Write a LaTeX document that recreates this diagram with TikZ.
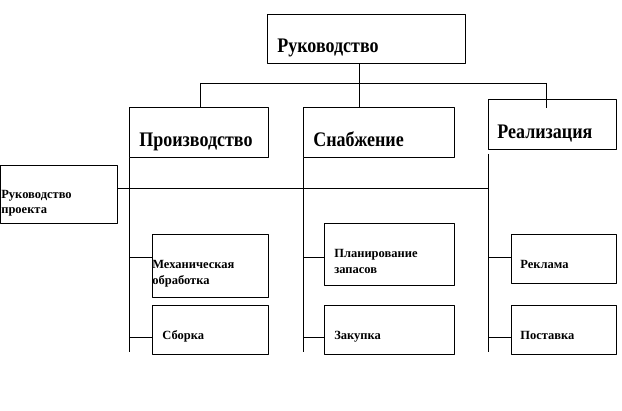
\documentclass[tikz,border=0pt]{standalone}
\usepackage{fontspec}
\setmainfont{Liberation Serif}
\newcommand{\tall}[1]{\scalebox{1}[1.15]{#1}}
\begin{document}
\begin{tikzpicture}[x=1pt, y=-1pt, line join=round, line width=0.7pt,
	box/.style={draw, rectangle, inner sep=0, anchor=north west},
	big/.style={font=\fontsize{18}{18}\selectfont\bfseries, anchor=base west, inner sep=0},
	small/.style={font=\fontsize{12.5}{16}\selectfont\bfseries, anchor=base west, align=left, inner sep=0}]
	\useasboundingbox (0,0) rectangle (622,411);
	\node[box, minimum width=198, minimum height=49] (ruk) at (267,14) {};
	\node[box, minimum width=139, minimum height=50] (proizv) at (129,107) {};
	\node[box, minimum width=151, minimum height=50] (snab) at (303,107) {};
	\node[box, minimum width=128, minimum height=50] (real) at (488,99) {};
	\node[box, minimum width=117, minimum height=58] (rukpr) at (0,165) {};
	\node[box, minimum width=116, minimum height=63] (mekh) at (152,234) {};
	\node[box, minimum width=116, minimum height=49] (sbor) at (152,305) {};
	\node[box, minimum width=130, minimum height=62] (plan) at (324,223) {};
	\node[box, minimum width=130, minimum height=49] (zak) at (324,305) {};
	\node[box, minimum width=105, minimum height=49] (rekl) at (511,234) {};
	\node[box, minimum width=105, minimum height=49] (post) at (511,305) {};
	\node[big] (tRuk) at (277,53) {\tall{Руководство}};
	\node[big] (tProizv) at (139,147) {\tall{Производство}};
	\node[big] (tSnab) at (313,147) {\tall{Снабжение}};
	\node[big] (tReal) at (497,139) {\tall{Реализация}};
	\node[small, font=\fontsize{12.5}{15}\selectfont\bfseries] (tRukpr) at (1,214) {Руководство\\проекта};
	\node[small] (tMekh) at (152,285) {Механическая\\обработка};
	\node[small] (tSbor) at (162,340) {Сборка};
	\node[small] (tPlan) at (334,274) {Планирование\\запасов};
	\node[small] (tZak) at (334,340) {Закупка};
	\node[small] (tRekl) at (520,269) {Реклама};
	\node[small] (tPost) at (520,340) {Поставка};
	\coordinate (hl) at (200,83);
	\coordinate (hm) at (359,83);
	\coordinate (hr) at (546,83);
	\coordinate (mid) at (0,188);
	\coordinate (bot) at (0,352);
	\coordinate (b1) at (0,257);
	\coordinate (b2) at (0,337);
	\coordinate (rtop) at (488,154);
	\draw (hl) -- (hr);
	\draw (ruk.south -| hm) -- (snab.north -| hm);
	\draw (hl) -- (proizv.north -| hl);
	\draw (hr) -- ++(0,25);
	\draw (rukpr.east |- mid) -- (rtop |- mid);
	\draw (proizv.south west) -- (proizv.south west |- bot);
	\draw (snab.south west) -- (snab.south west |- bot);
	\draw (rtop) -- (rtop |- bot);
	\draw (proizv.south west |- b1) -- (mekh.west |- b1);
	\draw (proizv.south west |- b2) -- (sbor.west |- b2);
	\draw (snab.south west |- b1) -- (plan.west |- b1);
	\draw (snab.south west |- b2) -- (zak.west |- b2);
	\draw (rtop |- b1) -- (rekl.west |- b1);
	\draw (rtop |- b2) -- (post.west |- b2);
\end{tikzpicture}
\end{document}
